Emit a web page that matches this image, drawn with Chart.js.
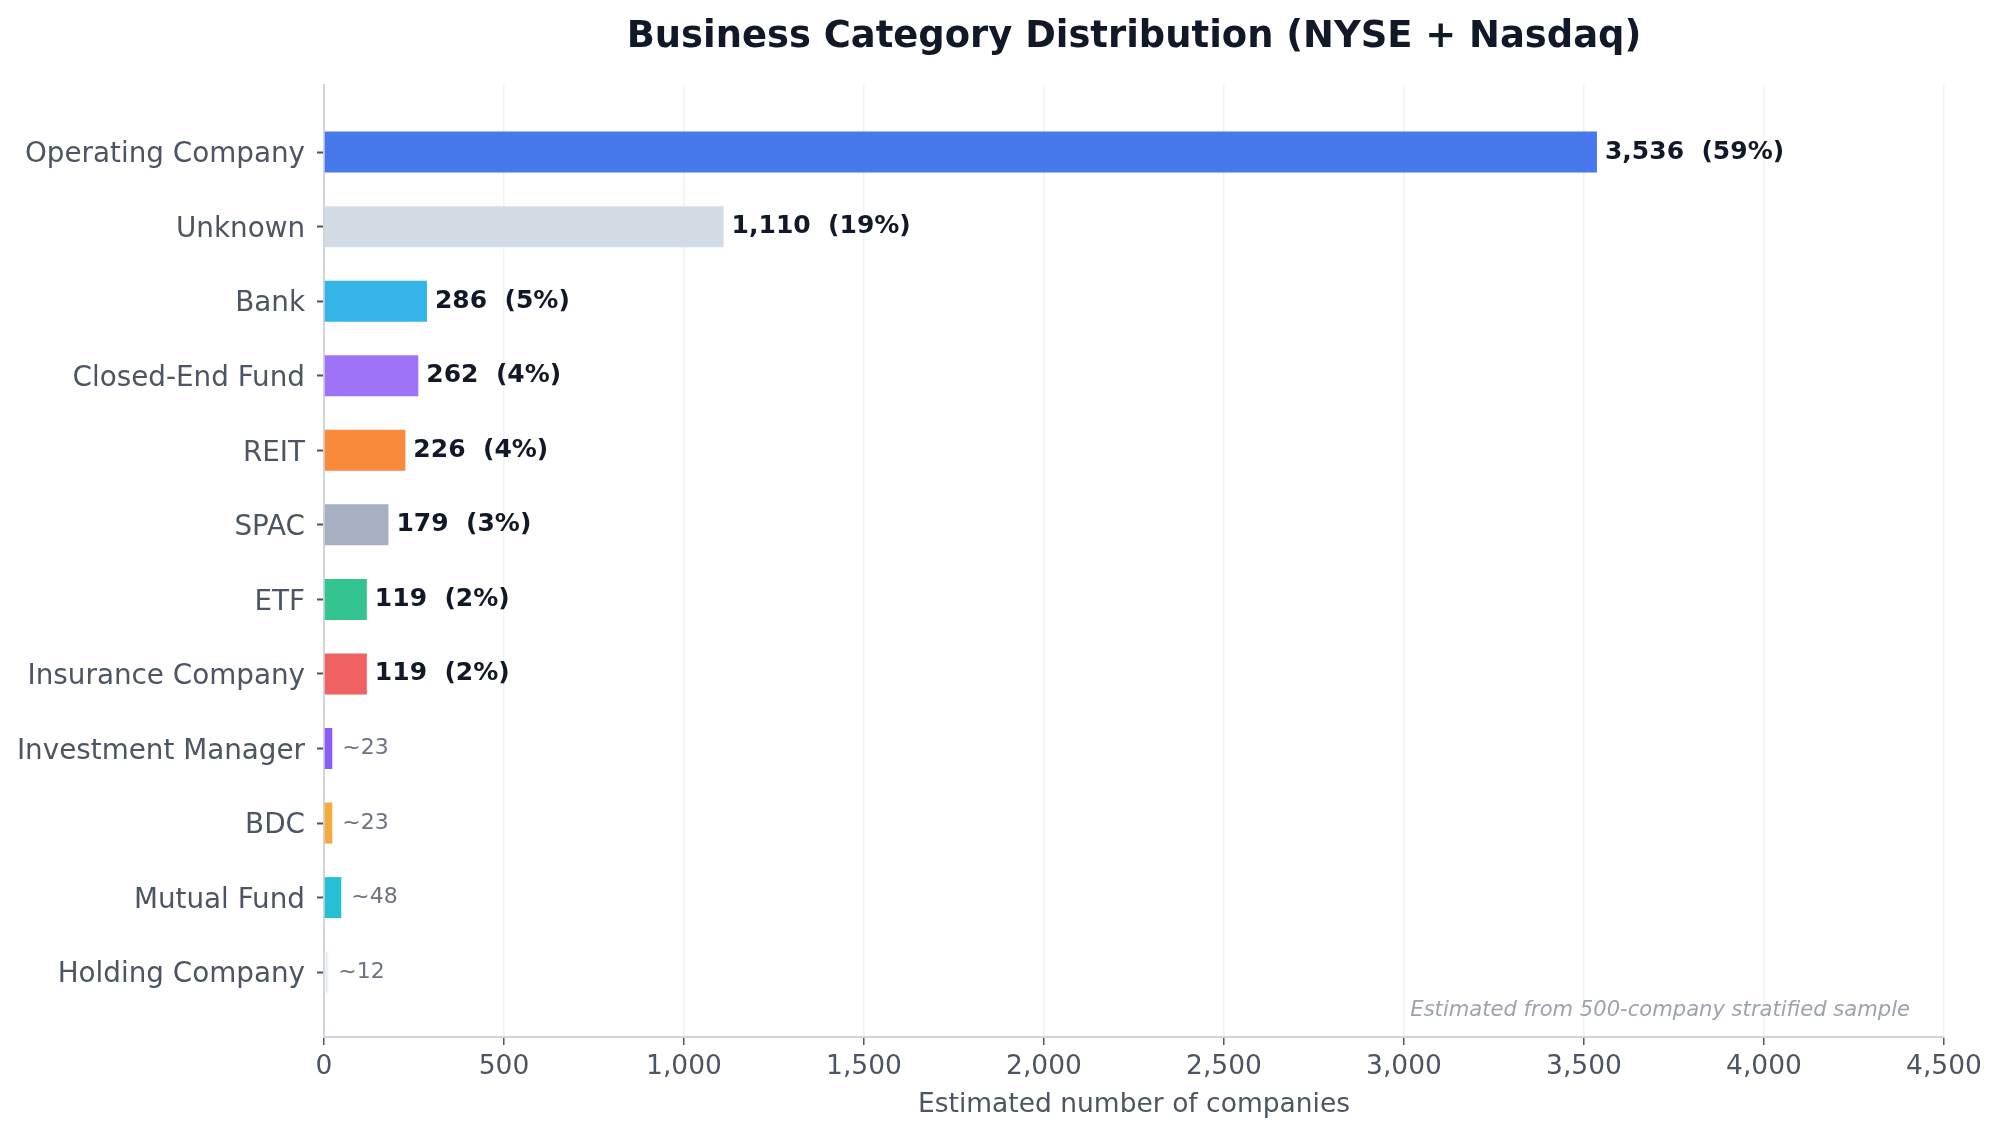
<!DOCTYPE html>
<html>
<head>
<meta charset="utf-8">
<script src="https://cdn.jsdelivr.net/npm/chart.js@4.4.1/dist/chart.umd.min.js"></script>
<style>
  html, body { margin: 0; padding: 0; background: #ffffff; }
  #wrap { width: 2000px; height: 1139px; position: relative; }
</style>
</head>
<body>
<div id="wrap"><canvas id="c" width="2000" height="1139"></canvas></div>
<script>
const categories = ["Operating Company", "Unknown", "Bank", "Closed-End Fund", "REIT", "SPAC", "ETF",
  "Insurance Company", "Investment Manager", "BDC", "Mutual Fund", "Holding Company"];
const counts = [3536, 1110, 286, 262, 226, 179, 119, 119, 23, 23, 48, 12];
const percents = [59, 19, 5, 4, 4, 3, 2, 2, null, null, null, null];
const barColors = ["#4779ec", "#d3dce5", "#35b4e9", "#9e73f7", "#f98a3c", "#a6b0c2", "#33c48f",
  "#f06262", "#8b5cf6", "#f4ab3c", "#27bfd6", "#eceff3"];
const xTicks = [0, 500, 1000, 1500, 2000, 2500, 3000, 3500, 4000, 4500];
const yTicks = [0, 1, 2, 3, 4, 5, 6, 7, 8, 9, 10, 11];
const titleText = "Business Category Distribution (NYSE + Nasdaq)";
const xAxisTitle = "Estimated number of companies";
const noteText = "Estimated from 500-company stratified sample";

const FONT = "'DejaVu Sans', 'Liberation Sans', sans-serif";

const labelPlugin = {
  id: 'valueLabels',
  afterDatasetsDraw(chart) {
    const ctx = chart.ctx;
    const meta = chart.getDatasetMeta(0);
    ctx.save();
    ctx.textBaseline = 'middle';
    ctx.textAlign = 'left';
    meta.data.forEach((bar, i) => {
      const v = counts[i];
      if (percents[i] !== null) {
        ctx.font = "bold 25px " + FONT;
        ctx.fillStyle = '#111827';
        ctx.fillText(v.toLocaleString('en-US') + '  (' + percents[i] + '%)', bar.x + 8, bar.y);
      } else {
        ctx.font = "22px " + FONT;
        ctx.fillStyle = '#6b7280';
        ctx.fillText('~' + v, bar.x + 10, bar.y);
      }
    });
    // note
    const ca = chart.chartArea;
    ctx.font = "italic 21.1px " + FONT;
    ctx.fillStyle = '#9ca3af';
    ctx.textAlign = 'right';
    ctx.textBaseline = 'alphabetic';
    ctx.fillText(noteText, ca.right - 34, 1016);
    // title centered over plot area
    ctx.font = "bold 36.9px " + FONT;
    ctx.fillStyle = '#111827';
    ctx.textAlign = 'center';
    ctx.fillText(titleText, (ca.left + ca.right) / 2, 47);
    ctx.restore();
  }
};

new Chart(document.getElementById('c'), {
  type: 'bar',
  data: {
    datasets: [{
      data: counts.map((v, i) => ({ x: v, y: i })),
      backgroundColor: barColors,
      borderWidth: 0,
      barPercentage: 0.55,
      categoryPercentage: 1.0
    }]
  },
  options: {
    indexAxis: 'y',
    responsive: false,
    animation: false,
    devicePixelRatio: 1,
    layout: { padding: { left: 0, right: 56, top: 85, bottom: 0 } },
    plugins: {
      legend: { display: false },
      tooltip: { enabled: false },
      title: { display: false }
    },
    scales: {
      x: {
        type: 'linear',
        position: 'bottom',
        min: 0,
        max: 4500,
        afterBuildTicks: (s) => { s.ticks = xTicks.map(v => ({ value: v })); },
        ticks: {
          color: '#4b5563',
          font: { family: FONT, size: 26.5 },
          padding: 6,
          callback: (v) => Number(v).toLocaleString('en-US')
        },
        grid: {
          color: '#f0f2f5',
          lineWidth: 1.5,
          drawTicks: true,
          tickLength: 8,
          tickColor: '#4b5563',
          tickWidth: 1.5
        },
        border: { color: '#d1d5db', width: 2 },
        title: {
          display: true,
          text: xAxisTitle,
          color: '#4b5563',
          font: { family: FONT, size: 26.5 },
          padding: { top: 4, bottom: 18 }
        },
        afterFit: (s) => { s.height = 102; }
      },
      y: {
        type: 'linear',
        position: 'left',
        reverse: true,
        offset: false,
        min: -0.9,
        max: 11.87,
        afterBuildTicks: (s) => { s.ticks = yTicks.map(v => ({ value: v })); },
        ticks: {
          autoSkip: false,
          color: '#4b5563',
          font: { family: FONT, size: 27.8 },
          padding: 12,
          labelOffset: 3,
          callback: (v) => (categories[Math.round(v)] !== undefined) ? categories[Math.round(v)] : ''
        },
        grid: {
          offset: false,
          drawOnChartArea: false,
          drawTicks: true,
          tickLength: 7,
          tickColor: '#4b5563',
          tickWidth: 2
        },
        border: { color: '#d1d5db', width: 2 },
        afterFit: (s) => { s.width = 324; }
      }
    }
  },
  plugins: [labelPlugin]
});
</script>
</body>
</html>
